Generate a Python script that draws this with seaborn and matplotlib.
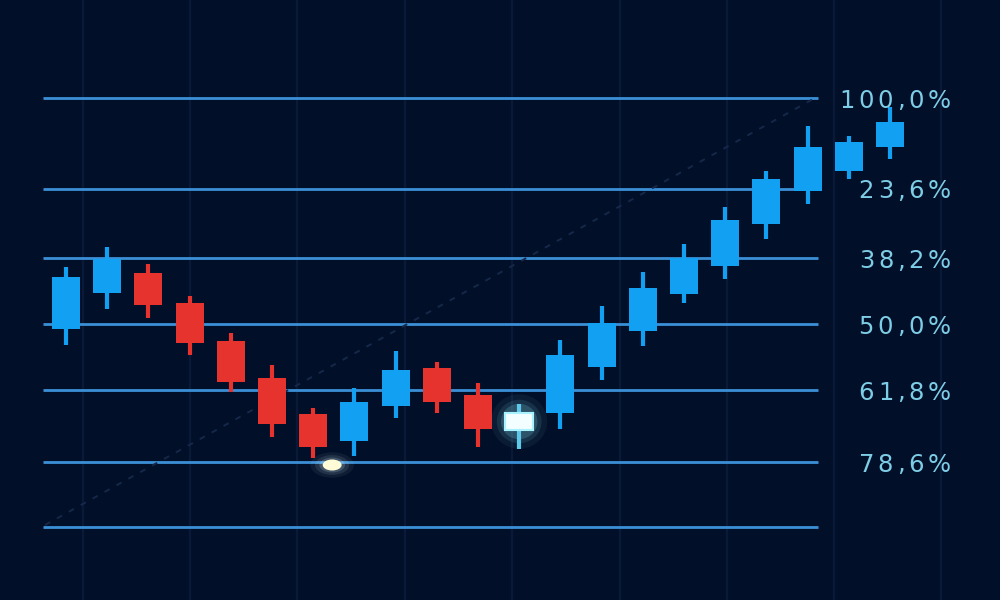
import numpy as np
import matplotlib
matplotlib.use("Agg")
import matplotlib.pyplot as plt
import seaborn as sns
from matplotlib.patches import Ellipse

# candle data (price units)
opens  = [271, 307, 327, 297, 259, 222, 186, 159, 194, 232, 205, 170, 187, 233, 269, 306, 334, 376, 409, 429, 453]
closes = [323, 341, 295, 257, 218, 176, 153, 198, 230, 198, 171, 187, 245, 277, 312, 342, 380, 421, 453, 458, 478]
highs  = [333, 353, 336, 304, 267, 235, 192, 212, 249, 238, 217, 196, 260, 294, 328, 356, 393, 429, 474, 464, 493]
lows   = [255, 291, 282, 245, 208, 163, 142, 144, 182, 187, 153, 151, 171, 220, 254, 297, 321, 361, 396, 421, 441]
highlight = 11  # glowing candle

# fibonacci retracement levels
fib_prices = [502, 411, 342, 276, 210, 138, 73]
fib_labels = ["100,0%", "23,6%", "38,2%", "50,0%", "61,8%", "78,6%", ""]

# glowing low point
glow_x, glow_y = 6.46, 135

BG = "#020f28"
UP = "#12a0f2"
DOWN = "#e6332d"
FIB = "#3b8fd6"
LABEL = "#7ecde6"

sns.set_theme(style="dark", rc={"axes.facecolor": BG, "figure.facecolor": BG})
plt.rcParams["font.family"] = ["DejaVu Sans"]

fig = plt.figure(figsize=(10, 6), dpi=100)
ax = fig.add_axes([0, 0, 1, 1])

# pixel -> data helpers (x: candle index, y: price)
step = 41.2
def px2x(px):
    return (px - 66) / step

ax.set_xlim(px2x(0), px2x(1000))
ax.set_ylim(0, 600)
ax.axis("off")

# faint vertical grid
for gx in [83, 190, 297, 405, 512, 620, 727, 834, 941]:
    ax.axvline(px2x(gx), color="#09193a", lw=1.6, zorder=0)

# fib lines
for p in fib_prices:
    ax.hlines(p, px2x(43), px2x(818), color=FIB, lw=2.0, zorder=1)

# labels with a little extra letter spacing, right aligned at x=951px
fig.canvas.draw()
renderer = fig.canvas.get_renderer()
fsize = 17.5
spacing = 3.8  # px between glyphs
for p, lab in zip(fib_prices, fib_labels):
    if not lab:
        continue
    widths = []
    for ch in lab:
        t = fig.text(0, 0, ch, fontsize=fsize)
        widths.append(t.get_window_extent(renderer).width)
        t.remove()
    total = sum(widths) + spacing * (len(lab) - 1)
    xpx = 951 - total
    ypx = ax.transData.transform((0, p))[1]
    for ch, w in zip(lab, widths):
        fig.text(xpx / 1000, ypx / 600, ch, fontsize=fsize, color=LABEL,
                 ha="left", va="center_baseline", zorder=5)
        xpx += w + spacing

# faint dotted trend line
sns.lineplot(x=[px2x(45), px2x(815)], y=[fib_prices[-1] + 2, fib_prices[0]],
             ax=ax, color="#15284a", lw=1.4, linestyle=(0, (3, 4)), zorder=1)

# candles
xs = np.arange(len(opens))
body_w = 0.68
for i in xs:
    o, c, h, l = opens[i], closes[i], highs[i], lows[i]
    if i == highlight:
        mid = (o + c) / 2
        for k, a in zip([2.0, 1.6, 1.3], [0.06, 0.10, 0.18]):
            ax.add_patch(Ellipse((i, mid), body_w * k, (c - o) * k * 1.6,
                                 color="#8ff0ff", alpha=a, lw=0, zorder=2))
        ax.vlines(i, l, h, color="#5fc8ea", lw=3, zorder=3)
        ax.bar(i, c - o, bottom=o, width=body_w, color="#f2feff",
               edgecolor="#a8f2ff", lw=1.5, zorder=4)
        continue
    col = UP if c >= o else DOWN
    ax.vlines(i, l, h, color=col, lw=3, zorder=3)
    ax.bar(i, abs(c - o), bottom=min(o, c), width=body_w, color=col,
           lw=0, zorder=4)

# glowing point
for k, a in zip([2.3, 1.8, 1.35], [0.06, 0.10, 0.18]):
    ax.add_patch(Ellipse((glow_x, glow_y), 0.46 * k, 11 * k, color="#d8f6ff",
                         alpha=a, lw=0, zorder=5))
ax.add_patch(Ellipse((glow_x, glow_y), 0.46, 11, color="#fffbd6", lw=0, zorder=6))

fig.savefig("out.png", dpi=100, facecolor=BG)
